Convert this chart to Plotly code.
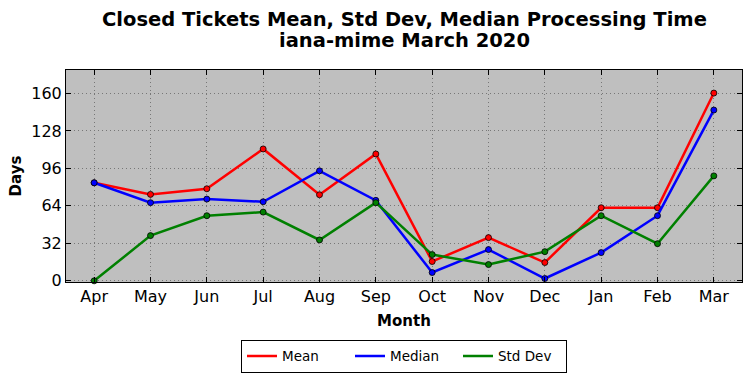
import plotly.graph_objects as go

months = ["Apr", "May", "Jun", "Jul", "Aug", "Sep", "Oct", "Nov", "Dec", "Jan", "Feb", "Mar"]
mean_vals = [83.7, 73.8, 78.6, 112.6, 73.5, 108.3, 16.5, 36.9, 15.6, 62.4, 62.4, 160.3]
median_vals = [83.7, 66.7, 69.8, 67.5, 93.9, 68.7, 7.1, 26.7, 2.0, 24.1, 55.6, 145.8]
std_vals = [0.0, 38.6, 55.6, 58.7, 34.9, 66.7, 22.4, 13.9, 24.9, 55.6, 31.7, 89.6]
y_ticks = [0, 32, 64, 96, 128, 160]
title_line1 = "Closed Tickets Mean, Std Dev, Median Processing Time"
title_line2 = "iana-mime March 2020"

series = [("Mean", mean_vals, "#ff0000"), ("Median", median_vals, "#0000ff"), ("Std Dev", std_vals, "#008000")]

FONT = "DejaVu Sans"
fig = go.Figure()
for name, vals, color in series:
    fig.add_trace(go.Scatter(
        x=list(range(len(months))), y=vals, mode="lines+markers", name=name,
        line=dict(color=color, width=2.5),
        marker=dict(size=6, color=color, line=dict(color="black", width=0.8)),
        showlegend=False, cliponaxis=False,
    ))
for name, vals, color in series:
    fig.add_trace(go.Scatter(
        x=[None], y=[None], mode="lines", name=name,
        line=dict(color=color, width=2.5), showlegend=True,
    ))

axis_common = dict(
    showline=True, linecolor="black", linewidth=1, mirror="allticks",
    ticks="inside", ticklen=5, tickcolor="black", tickwidth=1,
    showgrid=True, gridcolor="#777777", gridwidth=1, griddash="1px,3px",
    zeroline=False, tickfont=dict(family=FONT, size=16, color="black"),
    automargin=False,
)

PLOT_H = 378 - 70 - 96

fig.update_layout(
    width=752, height=378,
    margin=dict(l=66, r=10, t=70, b=96, autoexpand=False),
    paper_bgcolor="white", plot_bgcolor="#bfbfbf",
    font=dict(family=FONT, color="black"),
    xaxis=dict(
        axis_common,
        tickmode="array", tickvals=list(range(len(months))), ticktext=months,
        range=[-0.5, 11.5],
        title=dict(text="<b>Month</b>", font=dict(family=FONT, size=15), standoff=10),
    ),
    yaxis=dict(
        axis_common,
        tickmode="array", tickvals=y_ticks, ticktext=[str(v) for v in y_ticks],
        range=[-1, 180],
        title=dict(text="<b>Days</b>", font=dict(family=FONT, size=15), standoff=6),
    ),
    legend=dict(
        orientation="h", x=0.5, xanchor="center", xref="paper",
        y=-0.272, yanchor="top",
        bordercolor="black", borderwidth=1, bgcolor="white",
        font=dict(family=FONT, size=13.5, color="black"),
        entrywidth=63,
    ),
)

for text, ypix in [(title_line1, 19), (title_line2, 41)]:
    fig.add_annotation(
        text=f"<b>{text}</b>", x=0.5, xref="paper", xanchor="center",
        y=1 + (70 - ypix) / PLOT_H, yref="paper", yanchor="middle",
        showarrow=False, font=dict(family=FONT, size=19.5, color="black"),
    )

fig.write_html("out.html", config={"displayModeBar": False},
               post_script="document.body.style.margin='0';")
